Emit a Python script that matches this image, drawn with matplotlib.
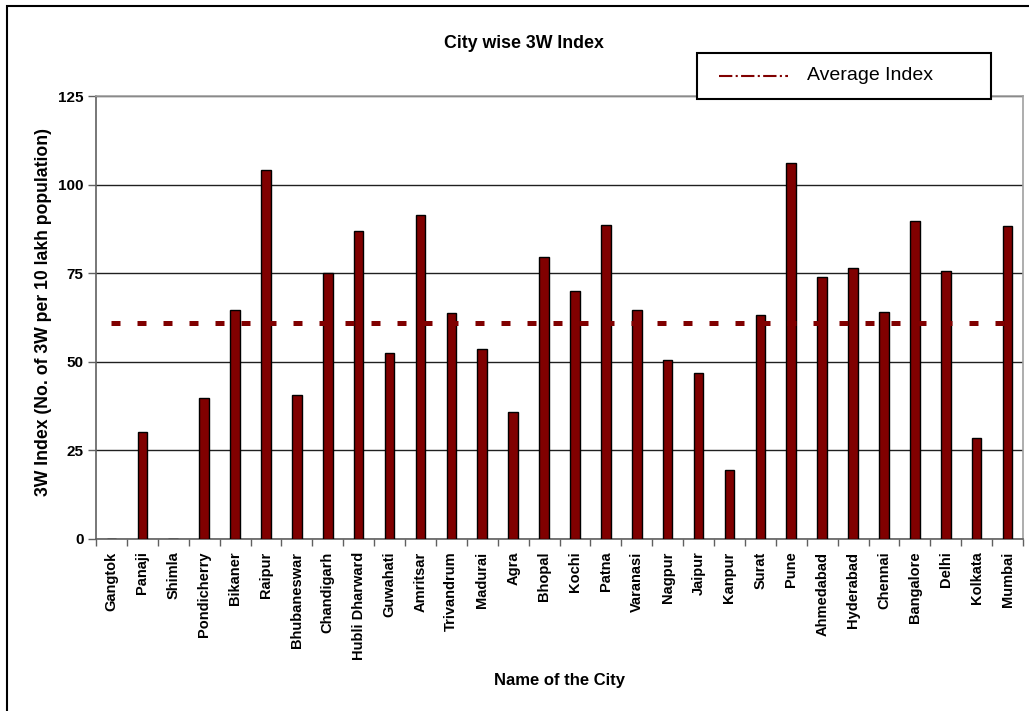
import matplotlib
matplotlib.use("Agg")
import matplotlib.pyplot as plt
from matplotlib.patches import Rectangle
from matplotlib.lines import Line2D
import numpy as np

plt.rcParams['font.family'] = ['Liberation Sans', 'DejaVu Sans']

# данные: города и индекс 3W
cities = ["Gangtok", "Panaji", "Shimla", "Pondicherry", "Bikaner", "Raipur",
          "Bhubaneswar", "Chandigarh", "Hubli Dharward", "Guwahati", "Amritsar",
          "Trivandrum", "Madurai", "Agra", "Bhopal", "Kochi", "Patna", "Varanasi",
          "Nagpur", "Jaipur", "Kanpur", "Surat", "Pune", "Ahmedabad", "Hyderabad",
          "Chennai", "Bangalore", "Delhi", "Kolkata", "Mumbai"]
index_3w = [0, 30.3, 0, 39.7, 64.6, 104.1, 40.6, 75.1, 86.8, 52.6, 91.3,
            63.7, 53.7, 35.7, 79.7, 70.1, 88.7, 64.5, 50.4, 46.7, 19.4,
            63.1, 106.1, 73.8, 76.5, 64.1, 89.6, 75.5, 28.5, 88.3]
average_index = 61.0
y_ticks = [0, 25, 50, 75, 100, 125]

BAR_COLOR = '#800000'
W, H = 1029, 711

fig = plt.figure(figsize=(W / 100, H / 100), dpi=100)
ax = fig.add_axes([96 / W, 1 - 539 / H, 927 / W, 443 / H])

x = np.arange(len(cities))
ax.bar(x, index_3w, width=0.31, color=BAR_COLOR, edgecolor='black',
       linewidth=1.0, zorder=3)

# средняя линия
ax.plot(x, [average_index] * len(x), color=BAR_COLOR, linewidth=3.6,
        linestyle=(0, (1.8, 3.4)), dash_capstyle='butt', zorder=4)

ax.set_xlim(-0.5, len(cities) - 0.5)
ax.set_ylim(0, 125)
ax.set_yticks(y_ticks)
ax.set_yticklabels([str(t) for t in y_ticks], fontsize=11, fontweight='bold')
ax.set_xticks(x)
ax.set_xticklabels(cities, rotation=90, fontsize=10.5, fontweight='bold')
ax.tick_params(axis='x', length=0, pad=9)
ax.set_xticks(np.arange(len(cities) + 1) - 0.5, minor=True)
ax.tick_params(axis='x', which='minor', length=5, color='#606060', width=1)
ax.tick_params(axis='y', length=6, color='#606060', width=1, pad=3)

ax.yaxis.grid(True, color='#202020', linewidth=1.0, zorder=0)
ax.set_axisbelow(True)

for side in ['top', 'right']:
    ax.spines[side].set_color('#a0a0a0')
    ax.spines[side].set_linewidth(1.2)
for side in ['left', 'bottom']:
    ax.spines[side].set_color('#606060')
    ax.spines[side].set_linewidth(1.2)

ax.set_ylabel("3W Index (No. of 3W per 10 lakh population)", fontsize=12.7,
              fontweight='bold', labelpad=4)
ax.yaxis.label.set_y(0.512)
fig.text(559.5 / W, 1 - 680 / H, "Name of the City", fontsize=12,
         fontweight='bold', ha='center', va='center')
fig.text(524 / W, 1 - 44 / H, "City wise 3W Index", fontsize=12.8,
         fontweight='bold', ha='center', va='center')

# легенда (рамка, образец линии, подпись)
fig.add_artist(Rectangle((697 / W, 1 - 99 / H), 294 / W, 46 / H,
                         transform=fig.transFigure, facecolor='white',
                         edgecolor='black', linewidth=1.5, zorder=10))
fig.add_artist(Line2D([719 / W, 788 / W], [1 - 76 / H, 1 - 76 / H],
                      transform=fig.transFigure, color=BAR_COLOR,
                      linewidth=1.5, linestyle='-.', zorder=11))
fig.text(807 / W, 1 - 76 / H, "Average Index", fontsize=14,
         ha='left', va='center', zorder=12)

# внешняя рамка
fig.add_artist(Rectangle((7 / W, -0.05), 1.1, 1 - 6 / H + 0.05,
                         transform=fig.transFigure, facecolor='none',
                         edgecolor='black', linewidth=1.5, zorder=20))

fig.savefig("out.png", dpi=100)
